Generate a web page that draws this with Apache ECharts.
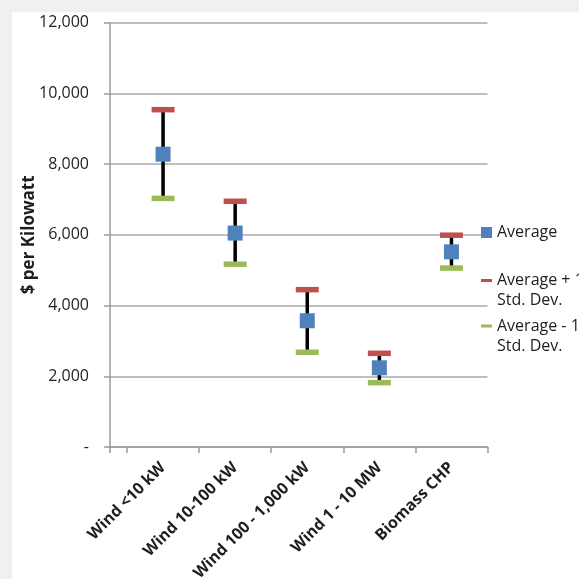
<!DOCTYPE html>
<html><head><meta charset="utf-8">
<script src="https://cdn.jsdelivr.net/npm/echarts@6/dist/echarts.min.js"></script>
<style>html,body{margin:0;padding:0;background:#fff;}#c{width:579px;height:579px;}</style>
</head><body><div id="c"></div>
<script>
var categories = ['Wind <10 kW', 'Wind 10-100 kW', 'Wind 100 - 1,000 kW', 'Wind 1 - 10 MW', 'Biomass CHP'];
var averageValues = [8280, 6050, 3570, 2240, 5520];
var plusOneSD = [9540, 6950, 4450, 2650, 5990];
var minusOneSD = [7030, 5170, 2680, 1820, 5060];
var yTicks = [0, 2000, 4000, 6000, 8000, 10000, 12000];
var seriesNames = ['Average', 'Average + 1\nStd. Dev.', 'Average - 1\nStd. Dev.'];

var FONT = 'Open Sans';
var TXT = '#1e1e1e';
var OFF = 17 / 72;               // empty lead-in before first category band
var NB = categories.length;
function xc(i) { return OFF + i + 0.5; }
function pts(arr) { return arr.map(function (v, i) { return [xc(i), v]; }); }
var bandEdges = [0].concat(categories.map(function (c, i) { return OFF + i; }), [OFF + NB]);
var legText = { fontFamily: FONT, fontSize: 16, color: TXT, lineHeight: 20 };

var chart = echarts.init(document.getElementById('c'), null, { renderer: 'canvas' });
chart.setOption({
  backgroundColor: '#fff',
  animation: false,
  graphic: [
    { type: 'rect', shape: { x: 0, y: 0, width: 579, height: 12 }, style: { fill: '#eff0f2' }, z: -10 },
    { type: 'rect', shape: { x: 0, y: 0, width: 12, height: 579 }, style: { fill: '#eff0f2' }, z: -10 }
  ],
  grid: { left: 110, right: 91.5, top: 22.7, bottom: 132, containLabel: false, outerBoundsMode: 'none' },
  xAxis: {
    type: 'value', min: 0, max: OFF + NB,
    splitLine: { show: false },
    axisLine: { show: true, onZero: false, lineStyle: { color: '#9a9a9a', width: 1.5 } },
    axisTick: { show: true, length: 6, customValues: bandEdges, lineStyle: { color: '#9a9a9a', width: 1.5 } },
    axisLabel: {
      customValues: categories.map(function (c, i) { return xc(i); }), rotate: 45, margin: 18,
      fontFamily: FONT, fontSize: 16, fontWeight: 'bold', color: TXT,
      formatter: function (v) { return categories[Math.round(v - OFF - 0.5)]; }
    }
  },
  yAxis: {
    type: 'value', min: yTicks[0], max: yTicks[yTicks.length - 1], interval: 2000,
    name: '$ per Kilowatt', nameLocation: 'middle', nameGap: 72, nameMoveOverlap: false,
    nameTextStyle: { fontFamily: FONT, fontSize: 17, fontWeight: 'bold', color: TXT },
    axisLine: { show: true, onZero: false, lineStyle: { color: '#9a9a9a', width: 1.5 } },
    axisTick: { show: true, length: 6, lineStyle: { color: '#9a9a9a', width: 1.5 } },
    splitLine: { show: true, lineStyle: { color: '#a8a8a8', width: 1.5 } },
    axisLabel: {
      margin: 21, fontFamily: FONT, fontSize: 16, color: TXT,
      formatter: function (v) { return v === 0 ? '-' : v.toLocaleString('en-US'); }
    }
  },
  legend: [
    { data: [{ name: seriesNames[0], icon: 'rect' }], orient: 'vertical', left: 481, top: 222.5, padding: 0,
      itemWidth: 11, itemHeight: 11, textStyle: legText, selectedMode: false },
    { data: [{ name: seriesNames[1], icon: 'rect' }], orient: 'vertical', left: 481, top: 250.5, padding: 0,
      itemWidth: 11, itemHeight: 3, textStyle: legText, selectedMode: false,
      formatter: function (n) { return '\n' + n; } },
    { data: [{ name: seriesNames[2], icon: 'rect' }], orient: 'vertical', left: 481, top: 296, padding: 0,
      itemWidth: 11, itemHeight: 3, textStyle: legText, selectedMode: false,
      formatter: function (n) { return '\n' + n; } }
  ],
  series: [
    {
      type: 'custom', name: 'range', z: 1,
      data: plusOneSD.map(function (v, i) { return [xc(i), minusOneSD[i], v]; }),
      encode: { x: 0, y: [1, 2] },
      renderItem: function (params, api) {
        var p1 = api.coord([api.value(0), api.value(1)]);
        var p2 = api.coord([api.value(0), api.value(2)]);
        return { type: 'line', shape: { x1: p1[0], y1: p1[1], x2: p2[0], y2: p2[1] }, style: { stroke: '#000', lineWidth: 3.5 } };
      }
    },
    { type: 'scatter', name: seriesNames[1], z: 2, symbol: 'rect', symbolSize: [23, 5.5],
      itemStyle: { color: '#C0504D', opacity: 1 }, data: pts(plusOneSD) },
    { type: 'scatter', name: seriesNames[2], z: 2, symbol: 'rect', symbolSize: [23, 5.5],
      itemStyle: { color: '#9BBB59', opacity: 1 }, data: pts(minusOneSD) },
    { type: 'scatter', name: seriesNames[0], z: 3, symbol: 'rect', symbolSize: 15,
      itemStyle: { color: '#4F81BD', opacity: 1 }, data: pts(averageValues) }
  ]
});
</script></body></html>
